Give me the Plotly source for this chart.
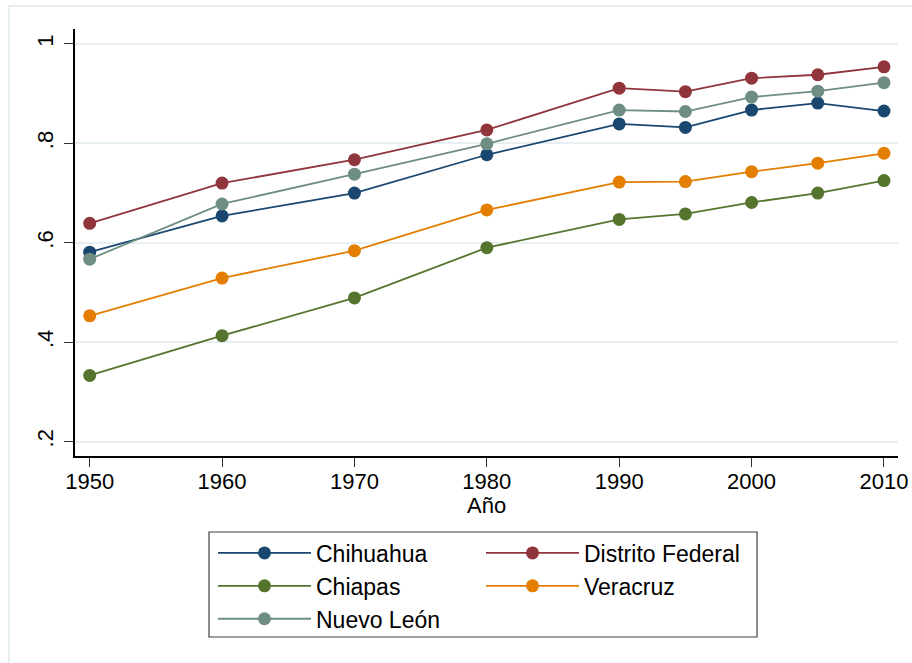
import plotly.graph_objects as go

# 数据
years = [1950, 1960, 1970, 1980, 1990, 1995, 2000, 2005, 2010]
chihuahua = [0.581, 0.654, 0.700, 0.777, 0.839, 0.832, 0.867, 0.881, 0.865]
distrito_federal = [0.639, 0.720, 0.767, 0.827, 0.911, 0.904, 0.931, 0.938, 0.954]
chiapas = [0.333, 0.413, 0.489, 0.590, 0.647, 0.658, 0.681, 0.700, 0.725]
veracruz = [0.453, 0.529, 0.584, 0.666, 0.722, 0.723, 0.743, 0.760, 0.780]
nuevo_leon = [0.567, 0.678, 0.738, 0.799, 0.867, 0.864, 0.893, 0.905, 0.922]

x_ticks = [1950, 1960, 1970, 1980, 1990, 2000, 2010]
y_ticks = [0.2, 0.4, 0.6, 0.8, 1.0]
y_labels = [".2", ".4", ".6", ".8", "1"]

series = [
    ("Chihuahua", chihuahua, "#1a476f", "legend"),
    ("Distrito Federal", distrito_federal, "#90353b", "legend2"),
    ("Chiapas", chiapas, "#55752f", "legend"),
    ("Veracruz", veracruz, "#e37e00", "legend2"),
    ("Nuevo León", nuevo_leon, "#6e8e84", "legend"),
]

W, H = 912, 663
L, R, T, B = 75, 14, 29, 207
pw, ph = W - L - R, H - T - B
FONT = "Liberation Sans, Arial"


def px_x(p):
    return (p - L) / pw


def px_y(p):
    return (H - B - p) / ph


fig = go.Figure()

for name, vals, color, lg in series:
    fig.add_trace(
        go.Scatter(
            x=years,
            y=vals,
            mode="lines+markers",
            name=name,
            legend=lg,
            line=dict(color=color, width=1.8),
            marker=dict(color=color, size=13),
        )
    )

legend_common = dict(
    orientation="v",
    xanchor="left",
    yanchor="top",
    bgcolor="rgba(0,0,0,0)",
    borderwidth=0,
    font=dict(family=FONT, size=23, color="black"),
    itemwidth=93,
)

fig.update_layout(
    width=W,
    height=H,
    margin=dict(l=L, r=R, t=T, b=B, autoexpand=False),
    paper_bgcolor="white",
    plot_bgcolor="white",
    font=dict(family=FONT, size=22, color="black"),
    legend=dict(x=px_x(213), y=px_y(531.5), **legend_common),
    legend2=dict(x=px_x(481), y=px_y(531.5), **legend_common),
    xaxis=dict(
        range=[1948.89, 2011.06],
        tickvals=x_ticks,
        ticks="outside",
        ticklen=9,
        tickcolor="#333",
        tickfont=dict(size=22),
        ticklabelstandoff=-4,
        showline=True,
        linecolor="black",
        linewidth=1.5,
        showgrid=False,
        zeroline=False,
        automargin=False,
    ),
    yaxis=dict(
        range=[0.171, 1.030],
        tickvals=y_ticks,
        ticktext=y_labels,
        tickangle=-90,
        ticks="outside",
        ticklen=9,
        tickcolor="#333",
        tickfont=dict(size=22),
        ticklabelstandoff=2,
        showline=True,
        linecolor="black",
        linewidth=1.5,
        showgrid=True,
        gridcolor="#e7eff2",
        gridwidth=1.5,
        zeroline=False,
        automargin=False,
    ),
    # X 轴标题
    annotations=[
        dict(text="Año", xref="paper", yref="paper", x=0.5, y=px_y(506),
             xanchor="center", yanchor="middle", showarrow=False,
             font=dict(family=FONT, size=22, color="black")),
    ],
    shapes=[
        # 外框（图形区域边界）
        dict(type="rect", xref="paper", yref="paper",
             x0=px_x(9), x1=px_x(930), y0=px_y(680), y1=px_y(6),
             line=dict(color="#e7eff2", width=2), layer="below"),
        # 图例边框
        dict(type="rect", xref="paper", yref="paper",
             x0=px_x(209), x1=px_x(757), y0=px_y(637), y1=px_y(532),
             line=dict(color="#404040", width=1.2)),
    ],
)

fig.write_html(
    "out.html",
    config={"displayModeBar": False},
    post_script="document.body.style.margin='0';",
)
